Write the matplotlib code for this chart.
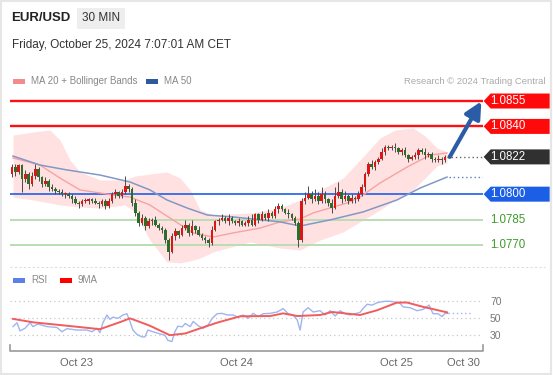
import matplotlib
matplotlib.use("Agg")
from matplotlib import pyplot as plt
from matplotlib.patches import Rectangle, Polygon
import numpy as np

plt.rcParams['font.family'] = ['Liberation Sans', 'DejaVu Sans']

# ---- data ----
closes = [1.0816, 1.0813, 1.0817, 1.0809, 1.0812, 1.0806, 1.0811, 1.0815, 1.0810, 1.0806,
          1.0808, 1.0804, 1.0803, 1.0802, 1.0801, 1.0800, 1.0800, 1.0799, 1.0797, 1.0795,
          1.0794, 1.0796, 1.0796, 1.0797, 1.0796, 1.0795, 1.0794, 1.0796, 1.0793, 1.0796,
          1.0800, 1.0801, 1.0799, 1.0801, 1.0805, 1.0803, 1.0795, 1.0789, 1.0783, 1.0786,
          1.0781, 1.0784, 1.0785, 1.0782, 1.0780, 1.0779, 1.0773, 1.0766, 1.0775, 1.0778,
          1.0776, 1.0780, 1.0782, 1.0777, 1.0781, 1.0779, 1.0776, 1.0774, 1.0773, 1.0771,
          1.0779, 1.0784, 1.0785, 1.0786, 1.0784, 1.0786, 1.0784, 1.0783, 1.0784, 1.0782,
          1.0783, 1.0785, 1.0782, 1.0788, 1.0785, 1.0788, 1.0786, 1.0789, 1.0787, 1.0791,
          1.0793, 1.0791, 1.0789, 1.0788, 1.0786, 1.0783, 1.0773, 1.0796, 1.0798, 1.0800,
          1.0797, 1.0799, 1.0796, 1.0800, 1.0797, 1.0795, 1.0792, 1.0799, 1.0801, 1.0797,
          1.0799, 1.0796, 1.0798, 1.0797, 1.0800, 1.0804, 1.0812, 1.0818, 1.0816, 1.0819,
          1.0821, 1.0825, 1.0828, 1.0827, 1.0828, 1.0827, 1.0825, 1.0826, 1.0823, 1.0821,
          1.0822, 1.0823, 1.0826, 1.0825, 1.0823, 1.0824, 1.0821, 1.0820, 1.0821, 1.0820,
          1.0822]
first_open = 1.0812
# wick lengths in pips
wick_up = [2, 2, 1, 1, 2, 1, 2, 3, 1, 1,
           2, 1, 2, 1, 1, 2, 1, 1, 1, 2,
           1, 1, 2, 1, 1, 2, 1, 1, 1, 2,
           1, 2, 1, 2, 6, 1, 1, 2, 1, 2,
           1, 2, 1, 2, 1, 1, 1, 1, 2, 2,
           1, 2, 3, 1, 4, 1, 2, 1, 1, 1,
           2, 1, 1, 2, 1, 2, 1, 1, 2, 1,
           1, 2, 3, 1, 1, 2, 1, 2, 1, 2,
           2, 1, 1, 2, 1, 1, 1, 2, 3, 5,
           2, 4, 2, 4, 2, 1, 2, 5, 6, 2,
           3, 1, 2, 1, 2, 2, 1, 1, 2, 1,
           1, 2, 1, 1, 1, 2, 1, 1, 2, 1,
           1, 2, 1, 1, 2, 1, 1, 1, 2, 1,
           1]
wick_dn = [2, 2, 1, 8, 2, 3, 1, 2, 2, 2,
           1, 2, 1, 2, 1, 1, 2, 1, 2, 1,
           2, 1, 1, 2, 1, 1, 2, 1, 2, 1,
           1, 2, 1, 1, 1, 2, 2, 2, 2, 1,
           2, 1, 2, 1, 1, 2, 2, 5, 1, 2,
           2, 1, 1, 2, 1, 2, 1, 1, 2, 2,
           1, 1, 2, 1, 1, 2, 1, 1, 2, 1,
           1, 2, 1, 1, 2, 1, 1, 2, 1, 1,
           2, 1, 1, 2, 1, 1, 4, 1, 2, 1,
           2, 1, 2, 1, 2, 2, 3, 1, 1, 2,
           1, 2, 1, 2, 1, 1, 2, 1, 1, 2,
           1, 1, 2, 1, 1, 2, 1, 2, 1, 2,
           1, 1, 2, 1, 2, 1, 2, 1, 1, 2,
           1]

# moving averages (sampled along candle index)
ma20_t = [0.3, 8.4, 14.4, 20.4, 30.4, 35.4, 41.4, 48.3, 54.4, 60.4, 66.4, 74.5, 80.5, 86.5, 90.4, 100.6, 104.5, 110.5, 118.6, 125.5, 130.6]
ma20_v = [1.08214, 1.08172, 1.08095, 1.08025, 1.07995, 1.07983, 1.07936, 1.07848, 1.07771, 1.07747, 1.07771, 1.07800, 1.07836, 1.07854, 1.07889, 1.07948, 1.07983, 1.08066, 1.08160, 1.08231, 1.08243]
ma50_t = [0.3, 8.4, 16.5, 26.4, 35.4, 41.4, 46.5, 52.6, 58.6, 66.4, 72.4, 80.5, 86.5, 95.5, 105.4, 115.6, 122.5, 130.6]
ma50_v = [1.08225, 1.08172, 1.08143, 1.08113, 1.08072, 1.08025, 1.07966, 1.07918, 1.07877, 1.07865, 1.07853, 1.07836, 1.07812, 1.07848, 1.07895, 1.07966, 1.08036, 1.08101]
band_t = [0.3, 6.3, 11.4, 14.4, 17.4, 20.4, 26.4, 33.9, 36.9, 41.4, 46.5, 50.5, 53.5, 56.5, 60.4, 71.5, 80.5, 86.5, 92.5, 99.4, 104.5, 110.5, 115.0, 120.4, 124.0, 127.6, 130.6]
band_up = [1.08349, 1.08367, 1.08379, 1.08320, 1.08202, 1.08131, 1.08084, 1.08084, 1.08107, 1.08119, 1.08131, 1.08095, 1.08025, 1.07907, 1.07877, 1.07889, 1.07918, 1.07966, 1.08025, 1.08095, 1.08202, 1.08332, 1.08379, 1.08391, 1.08344, 1.08273, 1.08249]
band_lo = [1.07983, 1.07966, 1.07948, 1.07936, 1.07930, 1.07924, 1.07918, 1.07936, 1.07895, 1.07729, 1.07600, 1.07594, 1.07606, 1.07623, 1.07659, 1.07718, 1.07682, 1.07670, 1.07729, 1.07777, 1.07836, 1.07907, 1.07966, 1.08025, 1.08095, 1.08166, 1.08184]

# key levels
res_levels = [1.0855, 1.0840]
sup_level = 1.0800
green_levels = [1.0785, 1.0770]
target = 1.0855

# RSI panel
rsi_t = [0.3, 1.5, 2.4, 3.9, 5.4, 6.3, 7.8, 10.5, 13.5, 15.0, 16.5, 19.5, 22.5, 24.0, 25.5, 26.4, 27.3, 28.5, 29.4, 30.3,
         31.8, 33.3, 34.5, 35.4, 36.3, 37.5, 39.0, 39.9, 40.8, 42.3, 44.4, 45.9, 46.8, 48.0, 48.9, 49.8, 51.1, 52.0, 53.5, 54.4,
         55.9, 57.4, 58.9, 60.1, 61.6, 63.1, 64.6, 66.4, 67.9, 69.4, 70.9, 72.4, 73.9, 75.4, 77.5, 79.6, 81.4, 82.9, 84.4, 85.6,
         86.5, 87.4, 88.9, 90.4, 92.5, 94.0, 95.5, 97.0, 98.5, 100.0, 101.5, 103.0, 104.5, 105.4, 106.6, 108.1, 109.6, 111.1, 112.6, 114.4,
         116.5, 117.4, 119.5, 121.6, 123.4, 125.2, 126.4, 127.9, 129.1, 130.0, 130.9]
rsi_v = [40, 44.5, 35, 38, 44.5, 40, 43, 40, 39, 34, 37.6, 36, 36, 34, 38, 33, 44.5, 53.5, 48.5, 51,
         49.6, 53.5, 55, 46, 36, 31, 28, 28, 36, 34, 31.5, 30, 24, 22.6, 34, 40.5, 39.7, 43.6, 40, 46,
         41, 38, 42, 49.6, 55, 55.4, 53.5, 53.5, 50.8, 53.5, 49.6, 55.4, 51.6, 55, 55.4, 57, 61, 55, 53.5, 48,
         36, 57, 62, 57, 58.5, 53.5, 58.5, 52.3, 58.5, 55, 53.5, 55, 56.6, 61, 66, 65, 67.7, 69, 69.6, 69,
         67, 63, 62, 58.5, 60, 65, 55, 55, 51.6, 55.4, 55.4]
ma9_t = [0.3, 6.3, 16.5, 26.4, 33.0, 35.4, 38.0, 41.4, 47.4, 52.0, 56.5, 61.6, 68.5, 77.5, 81.4, 85.6, 92.5, 96.1, 104.5, 109.6, 115.6, 118.6, 123.4, 130.6]
ma9_v = [49, 45, 41, 37, 46, 49.6, 46, 41, 30, 32, 38, 44.6, 52, 52.3, 55.4, 52.3, 53.5, 57, 53.5, 59, 68, 68, 63, 56.6]

date_pos = [19.5, 67.5, 115.5, 135.5]
date_labels = ["Oct 23", "Oct 24", "Oct 25", "Oct 30"]
rsi_ticks = [30, 50, 70]

# ---- figure ----
W, H = 553, 375
fig = plt.figure(figsize=(W / 100, H / 100), dpi=100)
fig.patch.set_facecolor("white")


def fx(px):
    return px / W


def fy(py):
    return 1 - py / H


fig.patches.append(Rectangle((0.002, 0.003), 0.995, 0.994, transform=fig.transFigure,
                             fill=False, edgecolor="#e6e6e6", lw=1.5))

# header
fig.text(fx(11), fy(18), "EUR/USD", fontsize=9.5, fontweight="bold", color="#222222", va="center")
fig.patches.append(Rectangle((fx(77), fy(29)), fx(48), 21 / H, transform=fig.transFigure,
                             facecolor="#eeeeee", edgecolor="none"))
fig.text(fx(101), fy(18), "30 MIN", fontsize=8.5, color="#333333", va="center", ha="center")
fig.text(fx(12), fy(45), "Friday, October 25, 2024 7:07:01 AM CET", fontsize=8.5, color="#333333", va="center")

# legend row
fig.patches.append(Rectangle((fx(13), fy(83.5)), fx(12), 5 / H, transform=fig.transFigure,
                             facecolor="#f48a8a", edgecolor="none"))
fig.text(fx(31), fy(81), "MA 20 + Bollinger Bands", fontsize=7, color="#888888", va="center")
fig.patches.append(Rectangle((fx(146), fy(83.5)), fx(12), 5 / H, transform=fig.transFigure,
                             facecolor="#2d5a9e", edgecolor="none"))
fig.text(fx(164), fy(81), "MA 50", fontsize=7, color="#888888", va="center")
fig.text(fx(545), fy(81), "Research \u00a9 2024 Trading Central", fontsize=6.8, color="#aaaaaa",
         va="center", ha="right")

# ---- price panel ----
ax = fig.add_axes([fx(10), fy(268), fx(473), (268 - 90) / H])
ax.set_xlim(-0.6, 141.4)
ax.set_ylim(1.07564, 1.08615)
ax.axis("off")

ax.fill_between(band_t, band_lo, band_up, color="#ffe1e1", lw=0, zorder=1)

for lv in green_levels:
    ax.axhline(lv, color="#b9ddb2", lw=1.4, zorder=2)
ax.axhline(sup_level, color="#1f5fe8", lw=1.2, zorder=2)
for lv in res_levels:
    ax.axhline(lv, color="#ff1010", lw=1.7, zorder=2)

ax.plot(ma20_t, ma20_v, color="#f6a3a3", lw=1.0, zorder=3)
ax.plot(ma50_t, ma50_v, color="#8099c6", lw=1.1, zorder=3)

n = len(closes)
idx = np.arange(n)
c = np.array(closes)
o = np.concatenate([[first_open], c[:-1]])
hi = np.maximum(o, c) + np.array(wick_up) * 0.0001
lo = np.minimum(o, c) - np.array(wick_dn) * 0.0001
up = c >= o
ax.vlines(idx, lo, hi, color="#4a4a4a", lw=0.7, zorder=4)
body_h = np.maximum(np.abs(c - o), 0.00004)
ax.bar(idx, body_h, bottom=np.minimum(o, c), width=0.78,
       color=np.where(up, "#dc1515", "#2b6e2b"), edgecolor="none", zorder=5)

# extensions to the right
x_end = 141.4
ax.plot([n - 0.5, x_end], [closes[-1]] * 2, color="#666666", lw=1, ls=(0, (1, 2)), zorder=3)
ax.plot([ma50_t[-1] + 0.5, x_end], [ma50_v[-1]] * 2, color="#5b7fc2", lw=1, ls=(0, (1, 2)), zorder=3)

# forecast arrow
ax.annotate("", xy=(140.9, target - 0.00002), xytext=(n + 0.4, closes[-1]),
            arrowprops=dict(arrowstyle="-|>,head_width=0.5,head_length=1.0", color="#2a5da6",
                            lw=3, shrinkA=0, shrinkB=0), zorder=6)

# level tags
px_per_idx = 3.33
tip_x = 141.6
body_x = tip_x + 7 / px_per_idx
end_x = tip_x + 66 / px_per_idx
half_h = 7.5 / 16940


def tag(level, color):
    pts = [(tip_x, level), (body_x, level + half_h), (end_x, level + half_h),
           (end_x, level - half_h), (body_x, level - half_h)]
    ax.add_patch(Polygon(pts, closed=True, facecolor=color, edgecolor="none", clip_on=False, zorder=7))
    ax.text(body_x, level, f"{level:.4f}", color="white", fontsize=8.3,
            ha="left", va="center", clip_on=False, zorder=8)


for lv in res_levels:
    tag(lv, "#ff0a0a")
tag(closes[-1], "#303030")
tag(sup_level, "#1a5fe6")
for lv in green_levels:
    ax.text(body_x, lv, f"{lv:.4f}", color="#3d9a2b", fontsize=8.3, ha="left", va="center",
            clip_on=False)

# separator
fig.add_artist(plt.Line2D([fx(10), fx(545)], [fy(267), fy(267)], transform=fig.transFigure,
                          color="#dddddd", lw=0.8, ls=(0, (2, 2))))

# ---- RSI panel ----
fig.patches.append(Rectangle((fx(13), fy(282.5)), fx(12), 5 / H, transform=fig.transFigure,
                             facecolor="#5c80e6", edgecolor="none"))
fig.text(fx(31), fy(280), "RSI", fontsize=7, color="#888888", va="center")
fig.patches.append(Rectangle((fx(60), fy(282.5)), fx(12), 5 / H, transform=fig.transFigure,
                             facecolor="#ff0000", edgecolor="none"))
fig.text(fx(77), fy(280), "9MA", fontsize=7, color="#888888", va="center")

ax2 = fig.add_axes([fx(10), fy(351), fx(473), (351 - 290) / H])
ax2.set_xlim(-0.6, 141.4)
ax2.set_ylim(11.6, 82.6)
for s in ax2.spines.values():
    s.set_visible(False)
for t in rsi_ticks:
    ax2.axhline(t, color="#c8c8c8", lw=0.9, ls=(0, (1, 2.5)), zorder=1)
ax2.plot(rsi_t, rsi_v, color="#9fb5f0", lw=1.0, zorder=3)
ax2.plot([rsi_t[-1], 138.3], [rsi_v[-1]] * 2, color="#9fb5f0", lw=1.0, ls=(0, (1, 2)), zorder=3)
ax2.plot(ma9_t, ma9_v, color="#f25c5c", lw=1.4, zorder=4)

ax2.yaxis.tick_right()
ax2.set_yticks(rsi_ticks)
ax2.set_yticklabels([str(t) for t in rsi_ticks])
ax2.tick_params(axis="y", length=0, pad=5, labelsize=7.5, labelcolor="#777777")
ax2.set_xticks(date_pos)
ax2.set_xticklabels(date_labels)
ax2.tick_params(axis="x", length=0, pad=5, labelsize=8, labelcolor="#666666")
ax2.plot([0, 0, 1, 1], [0.1, 0, 0, 0.1], transform=ax2.transAxes, color="#999999", lw=1.2,
         clip_on=False)

fig.savefig("out.png", dpi=100, facecolor="white")
